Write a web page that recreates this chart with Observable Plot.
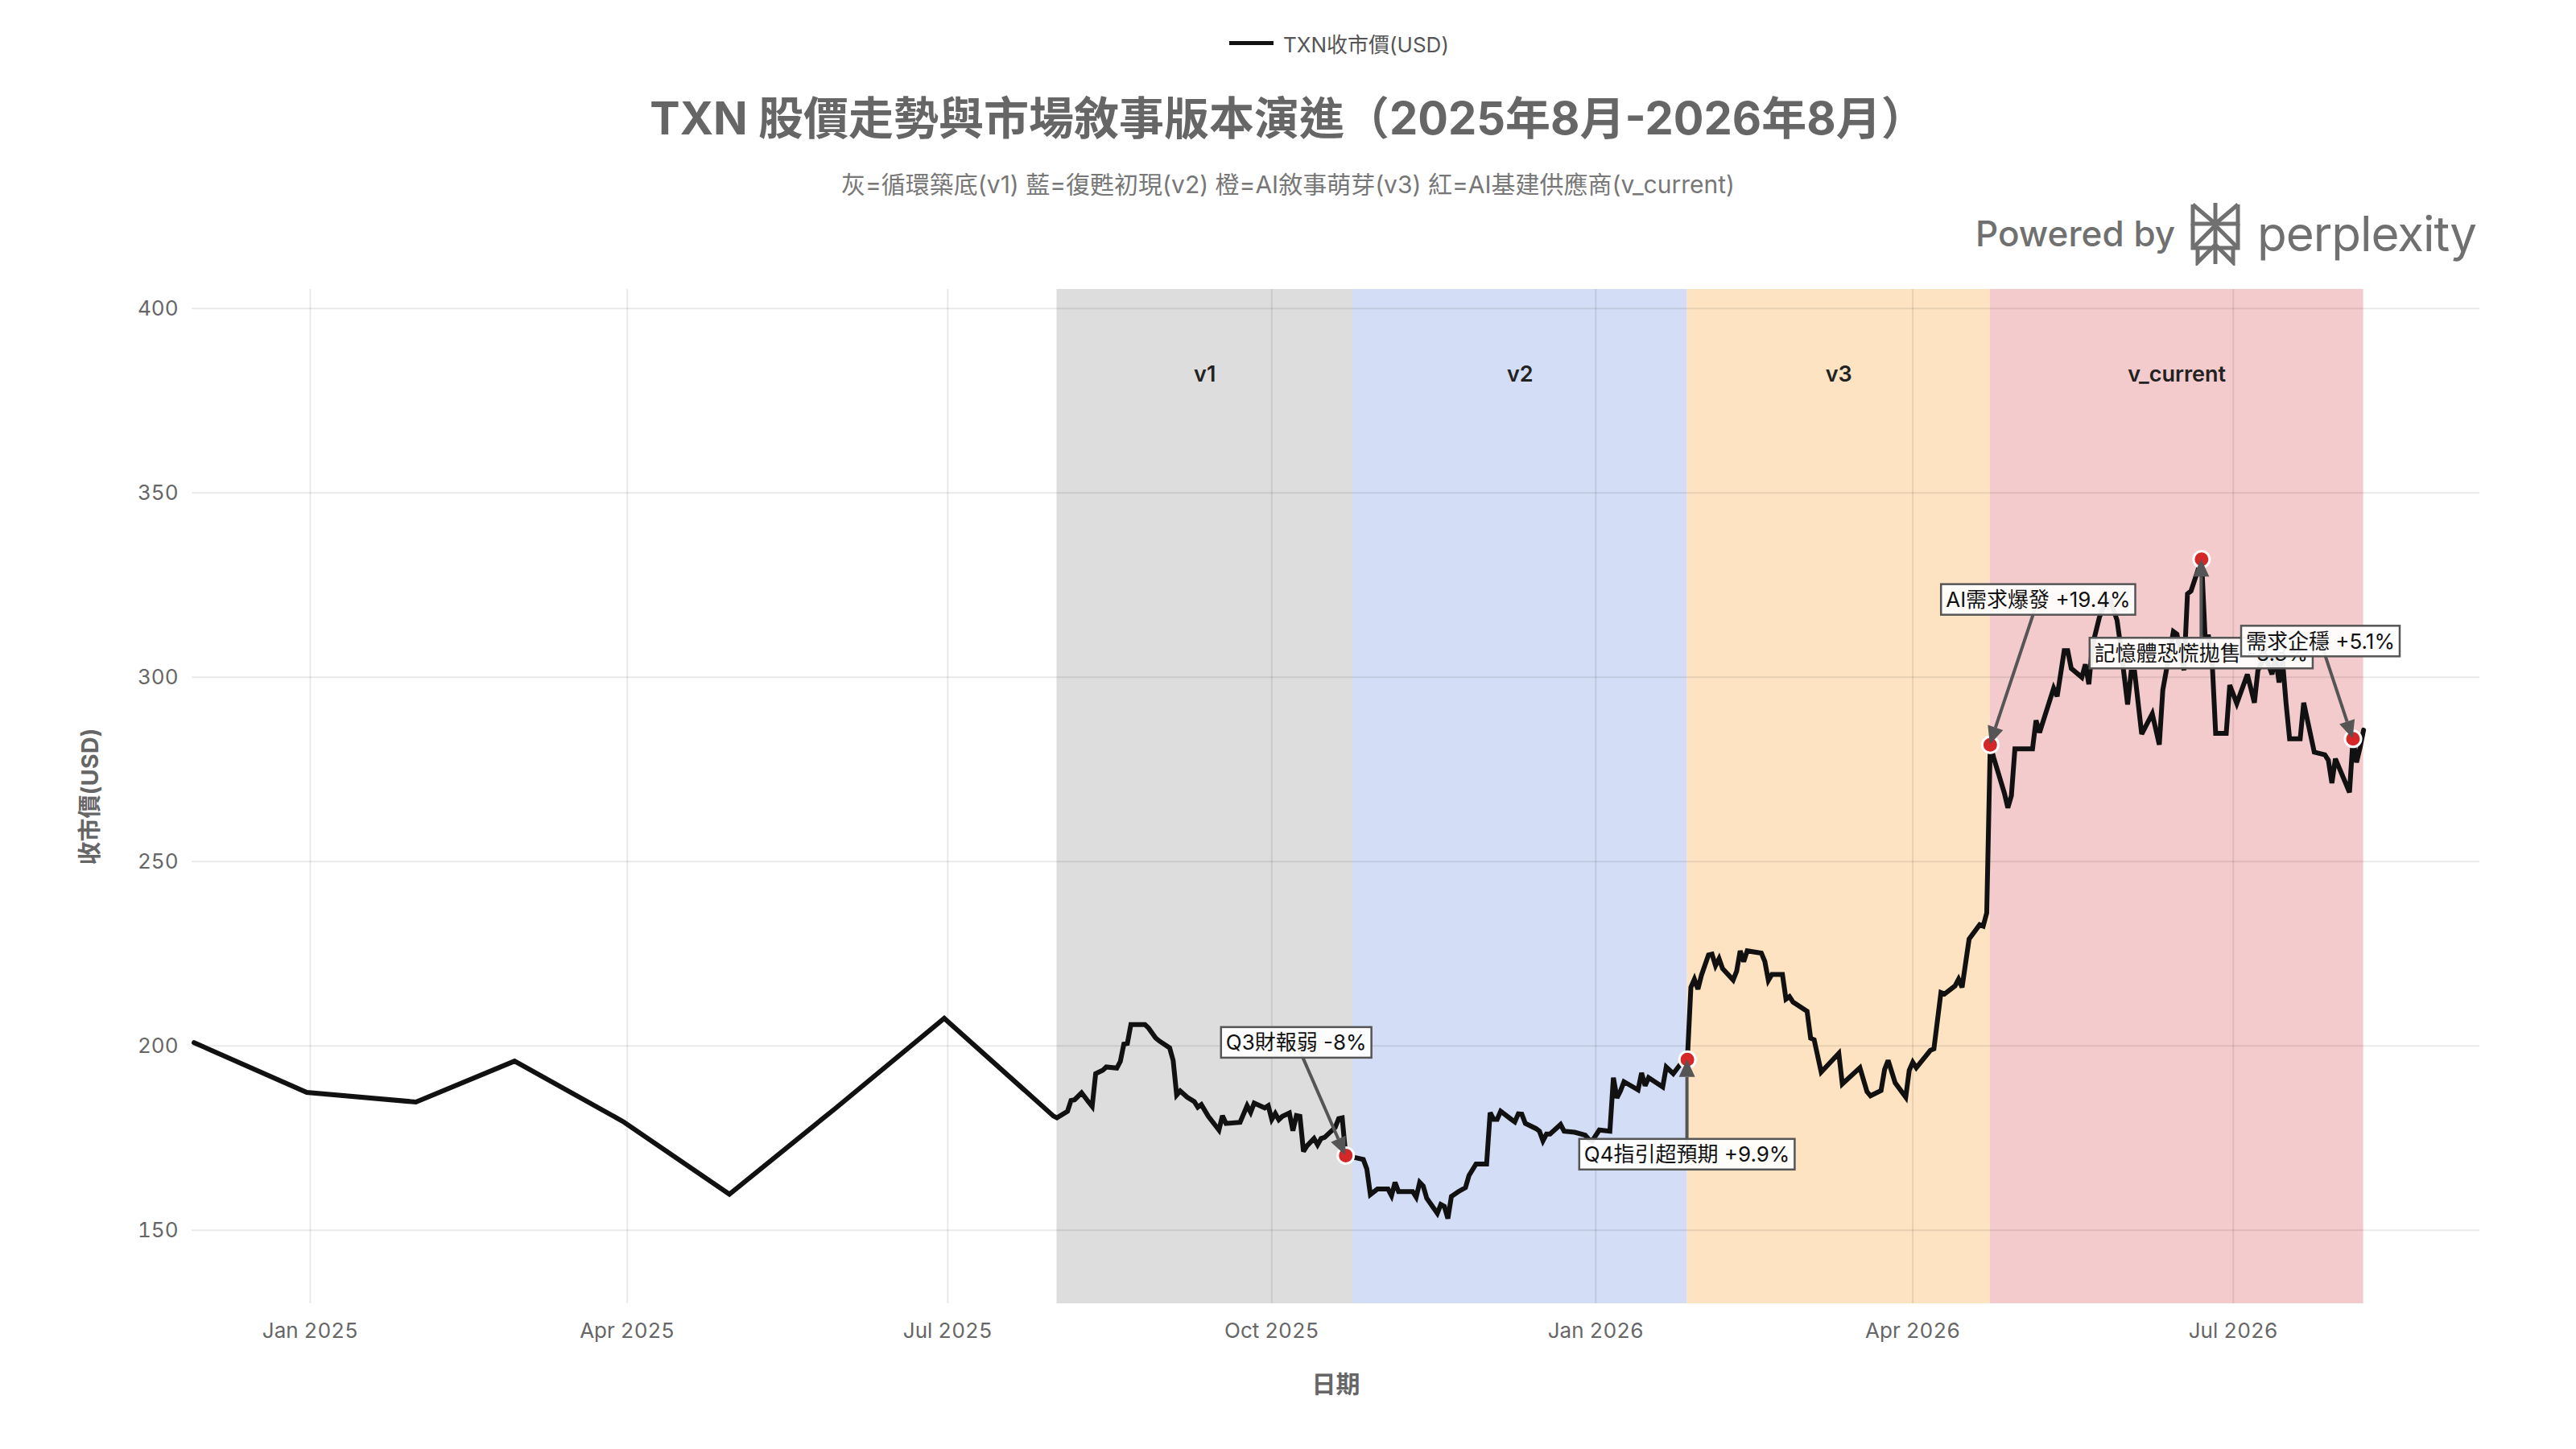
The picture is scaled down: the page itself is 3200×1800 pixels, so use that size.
<!DOCTYPE html>
<html><head><meta charset="utf-8">
<script src="https://cdn.jsdelivr.net/npm/d3@7"></script>
<script src="https://cdn.jsdelivr.net/npm/@observablehq/plot@0.6"></script>
<style>
html,body{margin:0;padding:0;background:#fff;}
body{font-family:Inter,"Noto Sans CJK TC","Noto Sans",sans-serif;}
#wrap{width:3200px;}
#header{position:relative;width:3200px;height:330px;}
#legend{position:absolute;left:1527px;top:35px;height:36px;display:flex;align-items:center;font-size:26px;color:#555;white-space:nowrap;}
#legend .sw{width:55px;height:5px;background:#111;margin-right:12px;}
#title{position:absolute;left:0;top:112px;width:3200px;text-align:center;font-size:56px;line-height:70px;font-weight:700;color:#666;white-space:nowrap;}
#subtitle{position:absolute;left:0;top:209px;width:3200px;text-align:center;font-size:30px;line-height:40px;color:#777;white-space:nowrap;}
#powered{position:absolute;right:124px;top:248px;height:84px;display:flex;align-items:center;color:#707070;white-space:nowrap;}
#powered .pb{font-size:44px;font-weight:500;margin-right:14px;}
#powered .px{font-size:60px;font-weight:400;margin-left:16px;letter-spacing:-1px;}
</style></head>
<body>
<div id="wrap">
  <div id="header">
    <div id="legend"><div class="sw"></div><span>TXN收市價(USD)</span></div>
    <div id="title">TXN 股價走勢與市場敘事版本演進（2025年8月-2026年8月）</div>
    <div id="subtitle">灰=循環築底(v1) 藍=復甦初現(v2) 橙=AI敘事萌芽(v3) 紅=AI基建供應商(v_current)</div>
    <div id="powered"><span class="pb">Powered by</span>
      <svg width="72" height="80" viewBox="0 0 72 80" fill="none" stroke="#707070" stroke-width="5" stroke-linejoin="miter">
        <path d="M36 2 V78"/>
        <path d="M8 4 L36 28 L64 4"/>
        <path d="M8 4 V28 H64 V4"/>
        <path d="M8 28 V58 H64 V28"/>
        <path d="M14 58 V76 L36 54 L58 76 V58"/>
        <path d="M8 58 L36 30 L64 58"/>
      </svg>
      <span class="px">perplexity</span></div>
  </div>
  <div id="chart"></div>
</div>
<script>
// ---------- DATA ----------
const preCloses = [
  ["2024-11-29",200.9],["2024-12-31",187.4],["2025-01-31",184.8],["2025-02-28",195.9],
  ["2025-03-31",179.4],["2025-04-30",159.8],["2025-05-30",183.0],["2025-06-30",207.5],["2025-07-31",181.0]
];
const v1Closes = [
  ["2025-08-01",180.5],["2025-08-04",182.3],["2025-08-05",185.2],["2025-08-06",185.4],["2025-08-08",187.3],
  ["2025-08-10",184.8],["2025-08-11",183.6],["2025-08-12",192.5],["2025-08-14",193.4],["2025-08-15",194.3],
  ["2025-08-18",194.0],["2025-08-19",195.8],["2025-08-20",200.5],["2025-08-21",200.7],["2025-08-22",205.8],
  ["2025-08-26",205.8],["2025-08-27",204.9],["2025-08-29",202.2],["2025-08-30",201.4],["2025-09-02",199.5],
  ["2025-09-03",196.1],["2025-09-04",186.7],["2025-09-05",187.8],["2025-09-07",186.1],["2025-09-09",184.9],
  ["2025-09-10",183.4],["2025-09-11",184.1],["2025-09-13",180.9],["2025-09-16",177.2],["2025-09-17",181.1],
  ["2025-09-18",179.0],["2025-09-22",179.3],["2025-09-24",183.8],["2025-09-25",182.0],["2025-09-26",184.5],
  ["2025-09-29",183.2],["2025-09-30",183.8],["2025-10-01",180.1],["2025-10-02",181.7],["2025-10-03",180.0],
  ["2025-10-04",180.9],["2025-10-06",181.8],["2025-10-07",177.0],["2025-10-08",181.1],["2025-10-09",180.9],
  ["2025-10-10",171.4],["2025-10-11",172.9],["2025-10-13",174.9],["2025-10-14",173.2],["2025-10-15",174.9],
  ["2025-10-16",175.2],["2025-10-19",177.9],["2025-10-20",180.3],["2025-10-21",180.5],["2025-10-22",170.3]
];
const v2Closes = [
  ["2025-10-27",169.2],["2025-10-28",166.6],["2025-10-29",159.7],["2025-10-31",161.2],["2025-11-03",161.2],
  ["2025-11-04",159.4],["2025-11-05",163.0],["2025-11-06",160.5],["2025-11-10",160.5],["2025-11-11",159.0],
  ["2025-11-12",163.0],["2025-11-13",162.0],["2025-11-14",158.7],["2025-11-17",154.6],["2025-11-18",157.0],
  ["2025-11-19",156.5],["2025-11-20",153.2],["2025-11-21",159.2],["2025-11-23",160.5],["2025-11-25",161.6],
  ["2025-11-26",164.9],["2025-11-28",168.0],["2025-12-01",168.0],["2025-12-02",181.9],["2025-12-03",180.1],
  ["2025-12-04",180.1],["2025-12-05",182.3],["2025-12-08",180.1],["2025-12-09",179.4],["2025-12-10",181.6],
  ["2025-12-11",181.5],["2025-12-12",179.0],["2025-12-15",177.6],["2025-12-16",176.9],["2025-12-17",174.3],
  ["2025-12-18",176.1],["2025-12-19",176.1],["2025-12-22",178.7],["2025-12-23",176.9],["2025-12-26",176.6],
  ["2025-12-29",175.8],["2025-12-30",174.7],["2025-12-31",174.3],["2026-01-02",177.2],["2026-01-05",176.9],
  ["2026-01-06",191.4],["2026-01-07",185.9],["2026-01-08",187.8],["2026-01-09",190.3],["2026-01-13",188.1],
  ["2026-01-14",192.7],["2026-01-15",189.2],["2026-01-16",191.4],["2026-01-20",188.9],["2026-01-21",194.3],
  ["2026-01-23",192.5],["2026-01-25",195.0],["2026-01-27",196.3]
];
const v3Closes = [
  ["2026-01-28",215.9],["2026-01-29",218.1],["2026-01-30",215.4],["2026-01-31",219.2],["2026-02-02",224.7],
  ["2026-02-03",224.9],["2026-02-04",221.8],["2026-02-05",223.7],["2026-02-06",221.0],["2026-02-09",217.9],
  ["2026-02-10",220.3],["2026-02-11",225.8],["2026-02-12",222.9],["2026-02-13",225.8],["2026-02-17",225.2],
  ["2026-02-18",222.9],["2026-02-19",217.8],["2026-02-20",219.4],["2026-02-23",219.4],["2026-02-24",212.7],
  ["2026-02-25",213.4],["2026-02-26",211.9],["2026-03-02",209.4],["2026-03-03",202.1],["2026-03-04",201.7],
  ["2026-03-06",192.9],["2026-03-11",198.0],["2026-03-12",189.7],["2026-03-17",194.1],["2026-03-19",187.6],
  ["2026-03-20",186.5],["2026-03-23",187.9],["2026-03-24",193.6],["2026-03-25",196.1],["2026-03-27",190.0],
  ["2026-03-30",186.1],["2026-03-31",193.4],["2026-04-01",195.6],["2026-04-02",194.1],["2026-04-06",198.8],
  ["2026-04-07",199.2],["2026-04-09",214.5],["2026-04-10",214.1],["2026-04-13",216.3],["2026-04-14",218.1],
  ["2026-04-15",215.9],["2026-04-17",229.0],["2026-04-20",232.9],["2026-04-21",232.5],["2026-04-22",236.1]
];
const vCurrentCloses = [
  ["2026-04-23",281.7],["2026-04-24",278.1],["2026-04-27",268.6],["2026-04-28",264.6],["2026-04-29",267.9],
  ["2026-04-30",280.6],["2026-05-05",280.6],["2026-05-06",288.3],["2026-05-07",285.0],["2026-05-11",297.0],
  ["2026-05-12",294.8],["2026-05-14",307.2],["2026-05-15",307.2],["2026-05-16",302.4],["2026-05-19",300.0],
  ["2026-05-20",303.5],["2026-05-21",298.1],["2026-05-22",308.6],["2026-05-24",316.3],["2026-05-26",321.0],
  ["2026-05-27",321.0],["2026-05-29",315.5],["2026-05-30",308.6],["2026-06-01",292.6],["2026-06-02",301.4],
  ["2026-06-03",301.4],["2026-06-05",284.6],["2026-06-08",290.1],["2026-06-10",281.7],["2026-06-11",296.6],
  ["2026-06-14",312.4],["2026-06-15",311.7],["2026-06-17",301.9],["2026-06-18",322.6],["2026-06-19",323.4],
  ["2026-06-22",332.0],["2026-06-23",311.0],["2026-06-24",311.0],["2026-06-25",304.4],["2026-06-26",284.8],
  ["2026-06-29",284.8],["2026-06-30",297.9],["2026-07-02",292.9],["2026-07-05",300.8],["2026-07-07",293.1],
  ["2026-07-08",301.9],["2026-07-10",305.9],["2026-07-12",300.8],["2026-07-13",305.5],["2026-07-14",298.6],
  ["2026-07-15",304.4],["2026-07-16",292.8],["2026-07-17",283.3],["2026-07-20",283.3],["2026-07-21",293.1],
  ["2026-07-24",279.7],["2026-07-27",279.0],["2026-07-28",277.5],["2026-07-29",271.3],["2026-07-30",277.9],
  ["2026-08-03",268.8],["2026-08-04",283.3],["2026-08-05",276.9],["2026-08-06",280.9],["2026-08-07",285.7]
];

const bandNames  = ["v1","v2","v3","v_current"];
const bandStarts = ["2025-08-01","2025-10-24","2026-01-27","2026-04-23"];
const bandEnds   = ["2025-10-24","2026-01-27","2026-04-23","2026-08-07"];

const annoDates = ["2025-10-22","2026-01-27","2026-04-23","2026-06-22","2026-08-04"];
const annoTexts = ["Q3財報弱 -8%","Q4指引超預期 +9.9%","AI需求爆發 +19.4%","記憶體恐慌拋售 -8.3%","需求企穩 +5.1%"];

const xTicks = ["2025-01-01","2025-04-01","2025-07-01","2025-10-01","2026-01-01","2026-04-01","2026-07-01"];
const yTicks = [150,200,250,300,350,400];
const xDomain = ["2024-11-28T10:00:00Z","2026-09-09T00:00:00Z"];
const yDomain = [130.1,405.2];

// ---------- STYLE (kept separate from data) ----------
const bandColors = ["#dddddd","#d3ddf5","#fde3c2","#f4cbcc"];
const annoOffsets = [[-61,-140],[0,118],[60,-180],[0,117],[-40,-121]];
const FONT = 'Inter,"Noto Sans CJK TC","Noto Sans",sans-serif';

// ---------- BUILD ----------
const parse = s => new Date(s.length === 10 ? s + "T00:00:00Z" : s);
const series = [...preCloses, ...v1Closes, ...v2Closes, ...v3Closes, ...vCurrentCloses]
  .map(([d, p]) => ({date: parse(d), price: p}));
const priceOn = new Map(series.map(d => [+d.date, d.price]));
const bands = bandNames.map((n, i) => ({name: n, start: parse(bandStarts[i]), end: parse(bandEnds[i])}));
const annos = annoDates.map((d, i) => ({date: parse(d), price: priceOn.get(+parse(d)), text: annoTexts[i]}));

const H = 1470, MT = 29, MB = 181, ML = 238, MR = 120;

const plot = Plot.plot({
  width: 3200,
  height: H,
  marginTop: MT, marginBottom: MB, marginLeft: ML, marginRight: MR,
  style: {fontFamily: FONT, fontSize: "26px", color: "#666", background: "#fff", overflow: "visible"},
  x: {type: "utc", domain: xDomain.map(parse)},
  y: {type: "linear", domain: yDomain},
  marks: [
    ...bands.map((b, i) => Plot.rect([b], {x1: "start", x2: "end", fill: bandColors[i]})),
    Plot.gridX({ticks: xTicks.map(parse), stroke: "#000", strokeOpacity: 0.085, strokeWidth: 2}),
    Plot.gridY({ticks: yTicks, stroke: "#000", strokeOpacity: 0.085, strokeWidth: 2}),
    Plot.axisX({ticks: xTicks.map(parse), tickFormat: d3.utcFormat("%b %Y"), tickSize: 0, tickPadding: 24, label: null, fill: "#666"}),
    Plot.axisY({ticks: yTicks, tickSize: 0, tickPadding: 17, label: null, fill: "#666"}),
    Plot.text(["日期"], {frameAnchor: "bottom", dy: 101, lineAnchor: "middle", textAnchor: "middle", fontSize: 30, fontWeight: 700, fill: "#666"}),
    Plot.text(["收市價(USD)"], {frameAnchor: "left", dx: -126, rotate: -90, lineAnchor: "middle", textAnchor: "middle", fontSize: 29, fontWeight: 700, fill: "#666"}),
    Plot.text(bands, {x: d => new Date((+d.start + +d.end) / 2), frameAnchor: "top", dy: 106, lineAnchor: "middle", textAnchor: "middle", text: "name", fontSize: 27, fontWeight: 600, fill: "#222"}),
    Plot.line(series, {x: "date", y: "price", stroke: "#111", strokeWidth: 6, strokeLinejoin: "miter", strokeMiterlimit: 3}),
    Plot.dot(annos, {x: "date", y: "price", r: 10, fill: "#d62728", stroke: "#fff", strokeWidth: 3})
  ]
});
document.getElementById("chart").appendChild(plot);

// ---------- ANNOTATIONS (arrows + boxed labels, positioned through Plot's scales) ----------
const xs = plot.scale("x"), ys = plot.scale("y");
const fx = xs.apply ? d => xs.apply(d) : d3.scaleUtc(xs.domain, xs.range);
const fy = ys.apply ? d => ys.apply(d) : d3.scaleLinear(ys.domain, ys.range);
const svgSel = d3.select(plot.tagName.toLowerCase() === "svg" ? plot : plot.querySelector("svg"));
const layer = svgSel.append("g").attr("class", "annotations");
const HEAD = 22, HW = 10;
annos.forEach((a, i) => {
  const px = fx(a.date), py = fy(a.price);
  const [ox, oy] = annoOffsets[i];
  const lx = px + ox, ly = py + oy;
  const dx = px - lx, dy = py - ly, len = Math.hypot(dx, dy), ux = dx / len, uy = dy / len;
  const bx = px - ux * HEAD, by = py - uy * HEAD;
  const g = layer.append("g");
  g.append("line").attr("x1", lx).attr("y1", ly).attr("x2", bx).attr("y2", by)
    .attr("stroke", "#555").attr("stroke-width", 4);
  g.append("path")
    .attr("d", `M${px},${py}L${bx - uy * HW},${by + ux * HW}L${bx + uy * HW},${by - ux * HW}Z`)
    .attr("fill", "#555");
  const rect = g.append("rect");
  const t = g.append("text").attr("x", lx).attr("y", ly)
    .attr("text-anchor", "middle").attr("dominant-baseline", "central")
    .attr("font-family", FONT).attr("font-size", 26).attr("fill", "#111").text(a.text);
  const bb = t.node().getBBox();
  rect.attr("x", bb.x - 6).attr("y", ly - 19).attr("width", bb.width + 12).attr("height", 38)
    .attr("fill", "#fff").attr("fill-opacity", 0.92).attr("stroke", "#555").attr("stroke-width", 2.5);
});
</script>
</body></html>
